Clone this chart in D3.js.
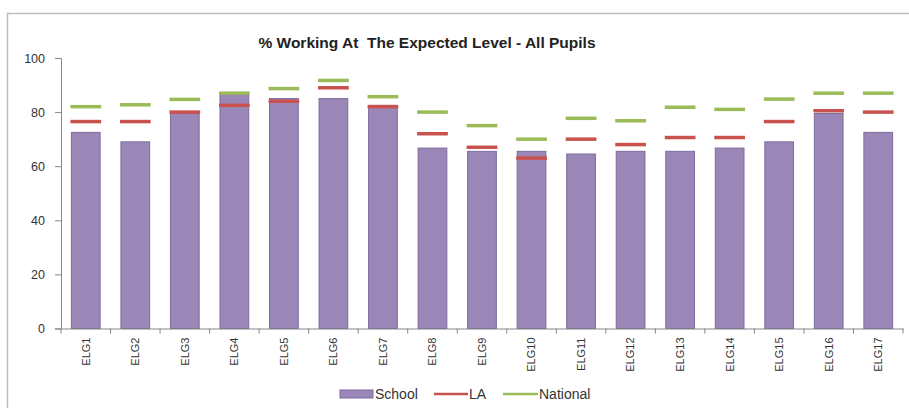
<!DOCTYPE html>
<html>
  <head>
    <meta charset="utf-8">
    <title>% Working At The Expected Level - All Pupils</title>
    <script src="https://d3js.org/d3.v7.min.js"></script>
    <style>
      body { margin: 0; background: #fff; }
      svg { display: block; font-family: "Liberation Sans", Arial, sans-serif; }
      .axis path, .axis line { stroke: #868686; }
      .axis text { fill: #333; }
      .title { font-size: 15.5px; font-weight: bold; fill: #222; text-anchor: middle; }
      .legend text { font-size: 14px; fill: #333; }
    </style>
  </head>
  <body>
    <script>
      // chart values
      var categories = ["ELG1", "ELG2", "ELG3", "ELG4", "ELG5", "ELG6", "ELG7", "ELG8", "ELG9",
                        "ELG10", "ELG11", "ELG12", "ELG13", "ELG14", "ELG15", "ELG16", "ELG17"];
      var school   = [72.5, 69, 79.5, 86.5, 85, 85, 82.5, 66.7, 65.5, 65.5, 64.5, 65.5, 65.5, 66.7, 69, 79.5, 72.5];
      var la       = [76.5, 76.5, 80, 82.5, 84, 89, 82, 72, 67, 63, 70, 68, 70.6, 70.6, 76.5, 80.5, 80];
      var national = [82, 82.7, 84.7, 87, 88.7, 91.7, 85.7, 80, 75, 70, 77.7, 76.8, 81.8, 81, 84.8, 87, 87];
      var yTicks = [0, 20, 40, 60, 80, 100];

      var width = 909, height = 408;

      var svg = d3.select("body")
                  .append("svg")
                  .attr("width", width)
                  .attr("height", height);

      // outer frame of the chart area
      svg.append("path")
         .attr("d", "M7.5," + height + "V13.5H" + width)
         .attr("fill", "none")
         .attr("stroke", "#bdbdbd")
         .attr("stroke-width", 1.5);

      var xScale = d3.scaleBand()
                     .domain(categories)
                     .range([61, 903])
                     .paddingInner(0.42)
                     .paddingOuter(0.21);
      var yScale = d3.scaleLinear()
                     .domain([0, 100])
                     .range([328.5, 58]);

      // bars
      svg.selectAll(".bar")
         .data(school)
         .enter()
         .append("rect")
         .attr("class", "bar")
         .attr("x", function(d, i) { return xScale(categories[i]); })
         .attr("y", function(d) { return yScale(d); })
         .attr("width", xScale.bandwidth())
         .attr("height", function(d) { return yScale(0) - yScale(d); })
         .attr("fill", "#9b86b8")
         .attr("stroke", "#7f6b9e")
         .attr("stroke-width", 1);

      // LA and National markers drawn as short dashes
      function dashes(values, colour) {
        svg.selectAll(null)
           .data(values)
           .enter()
           .append("line")
           .attr("x1", function(d, i) { return xScale(categories[i]) - 1; })
           .attr("x2", function(d, i) { return xScale(categories[i]) + xScale.bandwidth() + 1; })
           .attr("y1", function(d) { return yScale(d); })
           .attr("y2", function(d) { return yScale(d); })
           .attr("stroke", colour)
           .attr("stroke-width", 3.5);
      }
      dashes(la, "#c9524f");
      dashes(national, "#9bbb59");

      // y axis
      var yAxis = svg.append("g")
                     .attr("class", "axis")
                     .attr("transform", "translate(61,0)")
                     .call(d3.axisLeft(yScale).tickValues(yTicks).tickSize(6).tickPadding(10));
      yAxis.selectAll("text").style("font-size", "12.5px");

      // x axis
      var xAxis = svg.append("g")
                     .attr("class", "axis")
                     .attr("transform", "translate(0," + yScale(0) + ")")
                     .call(d3.axisBottom(xScale).tickSize(0).tickSizeOuter(0));
      xAxis.selectAll("text")
           .style("font-size", "11px")
           .attr("transform", "rotate(-90)")
           .attr("x", -9)
           .attr("y", 0)
           .attr("dy", "0.35em")
           .style("text-anchor", "end");

      // tick marks between categories
      var step = xScale.step();
      var bounds = categories.map(function(c) { return xScale(c) - step * 0.21; });
      bounds.push(903);
      xAxis.selectAll(".sep")
           .data(bounds)
           .enter()
           .append("line")
           .attr("class", "sep")
           .attr("x1", function(d) { return d; })
           .attr("x2", function(d) { return d; })
           .attr("y1", 0)
           .attr("y2", 5);

      // title
      svg.append("text")
         .attr("class", "title")
         .attr("x", 427)
         .attr("y", 48)
         .attr("xml:space", "preserve")
         .text("% Working At  The Expected Level - All Pupils");

      // legend
      var legend = svg.append("g")
                      .attr("class", "legend")
                      .attr("transform", "translate(340, 394)");
      legend.append("rect")
            .attr("x", 0).attr("y", -4)
            .attr("width", 33).attr("height", 8)
            .attr("fill", "#9b86b8")
            .attr("stroke", "#7f6b9e");
      legend.append("text").attr("x", 35).attr("y", 5).text("School");
      legend.append("line")
            .attr("x1", 94).attr("x2", 128).attr("y1", 0).attr("y2", 0)
            .attr("stroke", "#c9524f").attr("stroke-width", 2.5);
      legend.append("text").attr("x", 129).attr("y", 5).text("LA");
      legend.append("line")
            .attr("x1", 163).attr("x2", 198).attr("y1", 0).attr("y2", 0)
            .attr("stroke", "#9bbb59").attr("stroke-width", 2.5);
      legend.append("text").attr("x", 199).attr("y", 5).text("National");
    </script>
  </body>
</html>
